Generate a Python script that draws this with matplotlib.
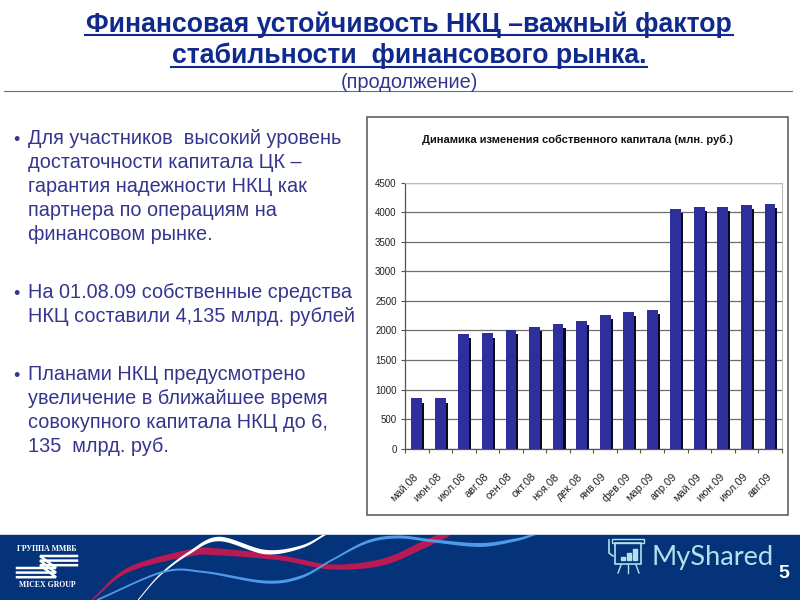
import matplotlib
matplotlib.use("Agg")
import matplotlib.pyplot as plt
import numpy as np
from matplotlib.patches import Rectangle, Polygon

months = ["май.08", "июн.08", "июл.08", "авг.08", "сен.08", "окт.08", "ноя.08", "дек.08",
          "янв.09", "фев.09", "мар.09", "апр.09", "май.09", "июн.09", "июл.09", "авг.09"]
capital = [850, 850, 1940, 1950, 2010, 2060, 2110, 2160,
           2260, 2310, 2350, 4060, 4090, 4090, 4130, 4135]
y_ticks = [0, 500, 1000, 1500, 2000, 2500, 3000, 3500, 4000, 4500]

title_lines = ["Финансовая устойчивость НКЦ –важный фактор", "стабильности  финансового рынка."]
subtitle = "(продолжение)"
bullets = [
    (138, "Для участников  высокий уровень"), (162, "достаточности капитала ЦК –"),
    (187, "гарантия надежности НКЦ как"), (211, "партнера по операциям на"),
    (235, "финансовом рынке."),
    (292, "На 01.08.09 собственные средства"), (317, "НКЦ составили 4,135 млрд. рублей"),
    (374, "Планами НКЦ предусмотрено"), (398, "увеличение в ближайшее время"),
    (422, "совокупного капитала НКЦ до 6,"), (447, "135  млрд. руб."),
]
bullet_rows = [140.5, 294.5, 376.5]

plt.rcParams["font.family"] = ["Liberation Sans", "DejaVu Sans"]
fig = plt.figure(figsize=(8, 6), dpi=100, facecolor="white")

# slide in pixel coords
bg = fig.add_axes([0, 0, 1, 1])
bg.set_xlim(0, 800)
bg.set_ylim(600, 0)
bg.axis("off")

navy = "#0f2a8c"
text_blue = "#35358f"
bg.text(409, 25, title_lines[0], ha="center", va="center", fontsize=19.2, fontweight="bold", color=navy)
bg.text(409, 56, title_lines[1], ha="center", va="center", fontsize=19.2, fontweight="bold", color=navy)
bg.plot([85, 733], [35, 35], color=navy, lw=1.5)
bg.plot([171, 647], [66.5, 66.5], color=navy, lw=1.5)
bg.text(409, 82, subtitle, ha="center", va="center", fontsize=14.4, color=text_blue)
bg.plot([4, 792], [90.5, 90.5], color="#3f7f9f", lw=0.8)

for y, line in bullets:
    bg.text(28, y, line, ha="left", va="center", fontsize=14.3, color=text_blue)
for y in bullet_rows:
    bg.text(16, y, "•", ha="center", va="center", fontsize=13, color=text_blue)

# footer band with ribbons
bg.add_patch(Rectangle((0, 535), 800, 65, color="#04337a", zorder=1))


def ribbon(points, widths, color):
    # smooth band through the points, only decoration of the slide
    pts = np.array(points, float)
    t = np.arange(len(pts))
    tt = np.linspace(0, len(pts) - 1, 200)
    pad = np.vstack([2 * pts[0] - pts[1], pts, 2 * pts[-1] - pts[-2]])
    i = np.clip(tt.astype(int), 0, len(pts) - 2)
    u = (tt - i)[:, None]
    p0, p1, p2, p3 = pad[i], pad[i + 1], pad[i + 2], pad[i + 3]
    xy = 0.5 * (2 * p1 + (p2 - p0) * u + (2 * p0 - 5 * p1 + 4 * p2 - p3) * u ** 2
                + (3 * p1 - p0 - 3 * p2 + p3) * u ** 3)
    w = np.interp(tt, t, widths)
    top = np.c_[xy[:, 0], xy[:, 1] - w / 2]
    bot = np.c_[xy[:, 0], xy[:, 1] + w / 2]
    poly = Polygon(np.vstack([top, bot[::-1]]), closed=True, fc=color, ec="none", zorder=2)
    bg.add_patch(poly)
    poly.set_clip_path(Rectangle((0, 535), 800, 65, transform=bg.transData))


ribbon([(92, 600), (128, 570), (189, 553), (219, 552), (281, 558), (332, 567), (383, 562),
        (423, 545), (449, 533)], [2, 5, 7, 7, 5, 5, 7, 8, 7], "#b81a54")
ribbon([(138, 600), (160, 575), (189, 553), (219, 539), (265, 552), (301, 547), (326, 534)],
       [1.5, 2, 3, 4.5, 4.5, 3, 2], "white")
ribbon([(97, 600), (163, 572), (204, 572), (265, 582), (301, 577), (332, 560), (367, 542),
        (398, 537), (434, 541), (480, 545), (515, 540), (536, 534)],
       [2, 2, 2, 3, 3, 2, 3, 3, 3, 4, 3, 2], "#4f9be8")

# MICEX logo
serif = ["Liberation Serif", "DejaVu Serif"]
bg.text(47, 549, "ГРУППА ММВБ", ha="center", va="center", fontsize=5.6, fontweight="bold",
        color="white", family=serif, zorder=3)
for k in range(3):
    y1 = 556 + 4.6 * k
    y2 = y1 + 12
    bg.plot([77, 40, 56, 17], [y1, y1, y2, y2], color="white", lw=1.8, zorder=3,
            solid_joinstyle="miter")
bg.text(47, 585, "MICEX GROUP", ha="center", va="center", fontsize=5.6, fontweight="bold",
        color="white", family=serif, zorder=3)

# MyShared watermark
ice = "#b4e0ea"
bg.add_patch(Rectangle((612, 539), 32, 3.5, fc="none", ec=ice, lw=1, zorder=3))
bg.add_patch(Rectangle((615, 543), 26, 21, fc="none", ec=ice, lw=1.2, zorder=3))
bg.plot([609, 609, 613], [540, 553, 556], color=ice, lw=1.2, zorder=3)
for xb, h in [(621, 3), (627, 7), (633, 11)]:
    bg.add_patch(Rectangle((xb, 560 - h), 4, h, color=ice, zorder=3))
bg.plot([621, 618], [565, 573], color=ice, lw=1, zorder=3)
bg.plot([628, 628], [565, 573], color=ice, lw=1, zorder=3)
bg.plot([636, 639], [565, 573], color=ice, lw=1, zorder=3)
bg.text(652, 565, "MyShared", ha="left", va="baseline", fontsize=19.6, color=ice,
        family="Lato", zorder=3)
bg.text(784, 574, "5", ha="center", va="center", fontsize=14, fontweight="bold", color="white", zorder=3)

# chart frame
bg.add_patch(Rectangle((366.5, 116.5), 421, 398, fc="white", ec="#555555", lw=1.1, zorder=2))
bg.text(577, 140, "Динамика изменения собственного капитала (млн. руб.)", ha="center", va="center",
        fontsize=8, fontweight="bold", color="#111111", zorder=3)

# bar chart, position in figure fractions from pixel box
ax = fig.add_axes([405 / 800, 1 - 448.7 / 600, 376.7 / 800, 266 / 600], zorder=4)
ax.patch.set_alpha(0)
x = list(range(len(months)))
shadow_x = [i + 0.09 for i in x]
shadow_h = [v - 70 for v in capital]
ax.bar(shadow_x, shadow_h, width=0.46, color="#0a0a1e", zorder=3)
ax.bar(x, capital, width=0.46, color="#2e2e9c", zorder=4)
ax.set_xlim(-0.5, len(months) - 0.5)
ax.set_ylim(0, 4500)
ax.set_yticks(y_ticks)
ax.set_xticks([i - 0.5 for i in range(len(months) + 1)], minor=True)
ax.set_xticks(x)
ax.set_xticklabels(months, rotation=45, ha="right", va="center", rotation_mode="anchor",
                   fontsize=7.8, color="#222222")
ax.tick_params(axis="x", which="major", length=0, pad=19)
ax.tick_params(axis="x", which="minor", length=3, width=0.8, color="#555555")
ax.tick_params(axis="y", length=3, width=0.8, color="#555555", pad=3, labelsize=7)
for lab in ax.get_yticklabels():
    lab.set_color("#222222")
ax.grid(axis="y", color="#6e6e6e", lw=0.9, zorder=1)
ax.set_axisbelow(True)
for side in ("top", "right"):
    ax.spines[side].set_color("#bbbbbb")
    ax.spines[side].set_linewidth(0.8)
for side in ("left", "bottom"):
    ax.spines[side].set_color("#555555")
    ax.spines[side].set_linewidth(0.9)

fig.savefig("out.png", dpi=100)
